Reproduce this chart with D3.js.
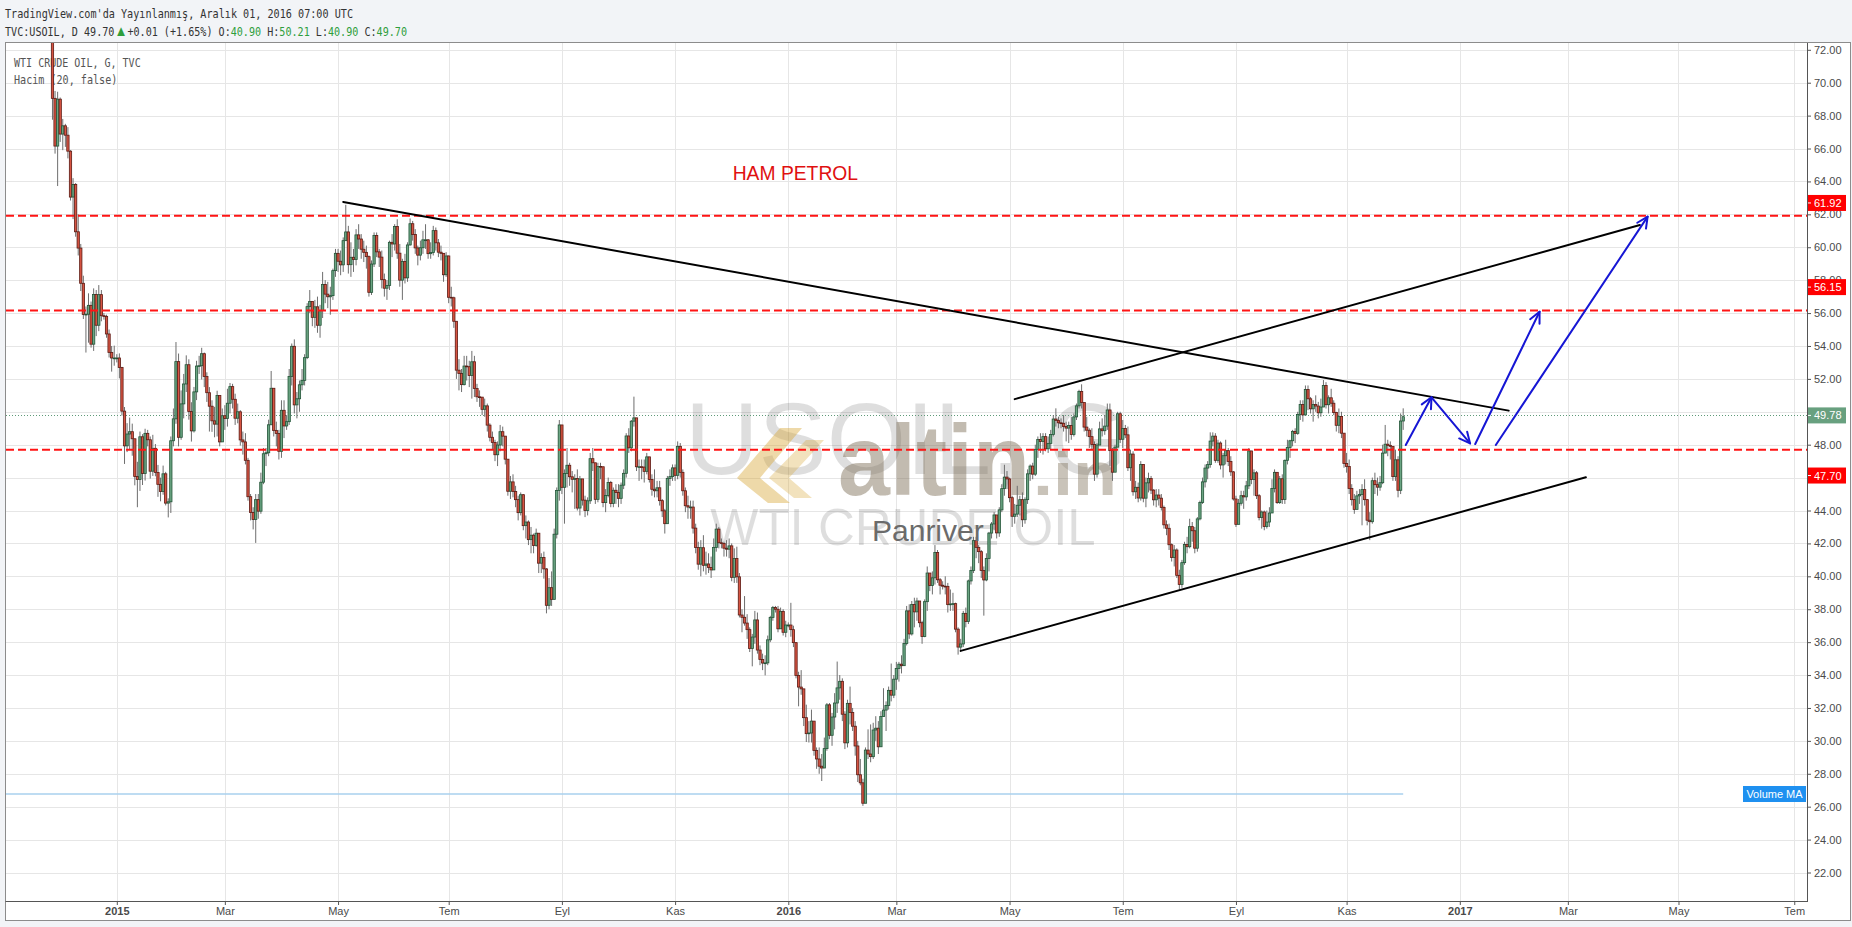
<!DOCTYPE html>
<html><head><meta charset="utf-8">
<script src="https://cdn.jsdelivr.net/npm/d3@7"></script>
<style>html,body{margin:0;padding:0;background:#f2f4f7;}svg{display:block}</style>
</head><body><svg id="chart" width="1852" height="927"></svg>
<script>
// ---------------- DATA ----------------
const months = ["2014-11","2014-12","2015-01","2015-02","2015-03","2015-04","2015-05","2015-06","2015-07","2015-08","2015-09","2015-10","2015-11","2015-12","2016-01","2016-02","2016-03","2016-04","2016-05","2016-06","2016-07","2016-08","2016-09","2016-10","2016-11","2016-12"];
const firstOpen = 76.50;
const closes = [
[75.78,74.09,73.69,69.05,66.15],
[69.00,66.88,67.38,66.81,65.84,63.05,63.82,60.94,59.95,57.81,55.91,55.93,56.47,54.11,57.13,55.26,57.12,55.84,55.80,54.73,53.61,53.27,53.27],
[53.27,52.69,50.04,47.93,48.65,48.79,48.36,46.07,45.89,48.48,46.25,48.69,48.30,46.39,47.78,46.31,45.59,45.15,46.23,44.45,44.53,48.24],
[49.57,53.05,48.45,50.48,51.69,52.86,50.02,48.84,51.21,52.78,52.80,53.53,52.14,51.16,50.34,49.45,49.25,50.99,48.17,49.76],
[49.59,50.52,51.53,50.76,49.61,50.00,48.29,48.17,47.05,44.84,43.88,43.46,44.66,43.96,45.72,47.45,47.51,49.21,51.43,48.87,48.68,47.60],
[50.09,49.14,49.40,52.14,53.98,50.42,50.79,51.64,51.91,53.29,56.39,56.71,55.74,56.38,55.26,56.16,57.74,57.15,56.99,57.06,58.58,59.63],
[59.15,58.93,60.40,60.93,58.94,59.39,59.25,60.75,60.50,59.88,59.69,59.43,57.26,58.98,60.72,59.72,59.40,58.03,57.51,57.68,60.30],
[60.20,61.26,59.64,58.00,59.13,58.14,60.14,61.43,60.77,59.96,59.52,59.97,60.45,60.45,59.61,59.68,61.01,60.27,59.70,59.63,58.33,59.47],
[56.96,56.93,55.50,52.53,52.33,51.65,52.78,52.74,52.20,53.04,51.41,50.91,50.89,50.15,50.36,49.19,48.45,48.14,47.39,47.98,48.79,48.52,47.12],
[45.17,45.74,45.15,44.66,43.87,44.96,43.08,43.30,42.23,42.50,41.87,42.62,40.80,41.14,40.45,38.24,39.31,38.60,42.56,45.22,49.20],
[45.41,46.25,46.75,46.05,45.90,45.94,44.15,45.92,44.63,44.00,44.59,47.15,46.90,44.68,46.68,46.66,44.48,44.91,45.70,44.43,45.23,45.09],
[44.74,45.54,46.26,48.53,47.81,49.43,49.63,46.66,46.66,46.64,46.38,47.26,45.89,45.29,45.20,45.38,44.60,43.98,43.20,45.94,46.06,46.59],
[46.14,47.90,46.32,45.20,44.29,44.21,44.21,42.93,41.75,40.74,41.74,40.67,40.75,40.54,40.39,41.75,42.87,42.04,42.00,41.71,41.65],
[41.85,39.94,41.08,39.97,37.65,37.51,37.16,36.76,35.62,36.31,37.35,35.52,34.95,34.73,34.74,36.14,37.50,38.10,38.00,36.81,37.87,36.60,37.04],
[37.04,36.76,35.97,33.97,33.27,33.16,31.41,30.44,30.48,31.20,29.42,28.90,28.46,28.35,29.53,32.19,30.34,31.45,32.30,33.22,33.62],
[31.62,29.88,32.28,31.72,30.89,29.69,27.94,27.45,26.21,29.44,29.20,29.04,30.66,30.77,29.64,31.48,31.87,32.15,33.07,32.78,33.75],
[34.40,34.66,34.57,35.92,37.90,36.50,38.29,37.84,38.50,37.18,36.34,38.46,40.20,39.44,39.91,41.45,39.79,39.46,39.40,39.39,38.28,38.32,38.34],
[36.79,35.70,35.89,37.75,37.26,39.72,40.36,42.17,41.76,41.50,40.36,39.78,41.08,42.63,43.18,43.73,42.64,44.04,45.33,46.03,45.92],
[44.78,43.65,43.78,44.32,44.66,43.44,44.66,46.23,46.70,46.21,47.72,48.31,48.19,48.49,47.75,48.08,48.62,49.56,49.48,49.33,49.30,49.10],
[49.01,49.17,48.62,49.69,50.36,51.23,50.56,49.07,48.88,48.49,48.01,46.21,47.98,48.96,48.85,49.13,50.11,47.64,46.33,47.85,49.88,48.33],
[48.99,48.60,46.60,47.43,45.14,45.41,44.76,46.80,44.75,45.68,45.95,45.24,44.65,44.94,44.75,44.19,43.13,42.92,41.92,41.14,41.60],
[40.06,39.51,40.83,41.93,41.80,43.02,42.77,41.71,43.49,44.49,45.74,46.58,46.79,48.22,48.52,47.05,48.10,46.77,47.33,47.64,46.98,46.35,44.70],
[43.16,44.44,44.90,44.83,45.50,47.62,45.88,46.29,44.90,43.58,43.91,43.03,43.30,43.85,45.34,46.32,44.48,45.93,44.67,47.05,47.83,48.24],
[48.81,48.69,49.83,50.44,49.81,51.35,50.79,50.18,50.44,50.35,49.94,50.29,51.60,50.43,50.85,50.52,49.96,49.18,49.72,48.70,46.86],
[46.67,45.34,44.66,44.07,44.89,44.98,45.27,44.66,43.41,43.32,45.81,45.57,45.42,45.69,47.49,48.03,47.96,47.90,46.06,47.08,45.23,49.44],
[49.70]
];
const highs = [
[76.90,76.20,74.80,73.80,69.50],
[69.45,69.10,67.80,67.50,67.30,65.90,64.20,63.90,62.00,60.20,58.27,56.40,57.20,56.70,57.50,57.40,57.70,57.40,56.00,55.90,55.00,54.00,54.02],
[53.50,53.55,52.73,50.29,49.31,49.65,49.28,48.05,46.96,48.80,48.64,48.97,48.90,48.50,48.60,48.04,46.77,46.00,46.73,46.35,44.74,48.50],
[50.20,54.24,53.54,51.30,52.30,53.43,53.19,50.58,51.51,53.10,53.40,53.89,53.60,52.40,51.50,50.70,50.30,51.28,50.80,50.20],
[50.40,51.40,51.75,51.70,51.10,50.50,50.10,48.80,48.70,47.20,45.00,44.20,45.00,45.00,46.30,47.80,47.80,49.52,52.48,51.40,49.40,48.90],
[50.70,50.70,49.80,52.60,54.15,54.40,51.20,51.90,52.60,53.50,56.60,57.40,56.70,56.80,57.00,56.50,58.50,58.00,57.90,57.60,58.70,59.90],
[59.90,59.80,60.60,62.58,61.30,60.30,59.90,61.10,61.40,60.80,60.40,60.10,59.50,59.20,60.90,60.90,59.90,59.80,58.40,58.00,60.40],
[60.80,61.40,61.70,60.20,59.30,59.60,60.30,61.75,61.60,61.10,60.10,60.40,61.00,61.40,60.50,60.30,61.30,61.20,60.50,60.10,59.30,59.70],
[59.50,57.60,57.00,55.40,53.20,52.60,53.40,53.40,53.10,53.70,53.40,51.70,51.30,50.90,50.80,50.50,49.30,48.80,48.30,48.20,49.20,49.10,48.50],
[46.90,46.10,46.20,45.50,44.90,45.10,45.00,43.70,43.40,43.00,42.60,42.90,42.60,41.40,41.50,40.50,39.90,40.30,42.90,45.40,49.50],
[49.00,46.50,47.80,46.90,46.40,46.20,46.50,46.10,45.70,44.90,44.80,47.50,47.80,46.80,46.90,46.90,46.30,45.30,46.00,45.80,45.40,45.60],
[45.60,45.70,46.50,48.70,49.00,49.50,50.92,49.60,47.10,47.10,47.10,47.50,47.20,46.20,46.50,45.80,45.80,44.70,44.10,46.10,46.50,46.80],
[46.80,48.20,48.10,46.50,45.40,44.90,44.60,44.60,43.20,42.10,42.20,42.50,41.50,41.40,41.20,42.30,43.20,43.00,42.30,42.10,42.20],
[42.30,42.00,41.70,41.80,40.20,38.00,38.80,37.70,36.90,36.50,37.90,37.80,35.80,35.30,35.20,36.40,37.60,38.20,38.20,38.20,38.10,38.00,37.30],
[37.20,38.39,37.00,36.00,34.20,34.30,32.60,32.20,31.20,31.90,31.10,29.60,29.60,29.20,30.20,32.30,32.30,31.70,32.90,34.82,34.00],
[33.80,31.80,32.50,33.30,32.00,31.20,30.00,28.90,27.70,29.60,30.70,31.00,31.10,31.50,31.20,31.80,33.20,32.40,33.30,34.70,34.00],
[34.80,34.80,35.20,36.20,38.20,38.30,38.50,38.70,38.70,38.20,37.30,38.60,40.60,40.20,40.30,41.90,41.60,39.90,39.70,40.00,39.60,39.20,39.00],
[38.40,36.90,36.20,37.90,38.10,39.80,40.60,42.40,42.40,41.90,41.60,40.60,41.40,42.70,43.30,43.90,43.60,44.20,45.60,46.78,46.40],
[46.00,44.90,44.40,45.50,44.90,45.10,44.80,46.50,46.80,46.90,48.00,48.50,48.70,48.70,48.70,48.50,48.90,49.80,50.21,49.70,49.60,49.80],
[49.40,49.40,49.70,49.90,50.50,51.34,51.67,50.40,49.70,49.00,49.00,48.20,48.10,49.40,49.60,49.80,50.50,50.50,47.80,48.00,50.00,50.00],
[49.50,49.20,49.10,47.70,47.60,45.80,45.70,47.00,46.80,46.00,46.30,46.10,45.30,45.30,45.30,45.00,44.30,43.40,43.20,42.00,41.90],
[41.70,40.40,41.00,42.10,42.40,43.50,43.30,43.00,43.60,44.60,46.00,46.80,47.00,48.75,48.75,48.70,48.30,48.20,47.50,48.30,47.80,47.30,46.40],
[44.90,44.70,45.20,45.20,45.80,47.80,47.60,46.50,46.40,45.00,44.00,44.00,44.00,44.20,45.90,46.50,46.30,46.10,46.20,47.10,48.30,48.30],
[48.90,49.00,50.00,50.70,50.70,51.60,51.60,50.90,50.70,51.00,50.60,50.80,51.93,51.80,51.00,51.40,50.70,50.00,50.20,50.00,48.70],
[47.50,47.10,45.60,45.00,45.20,45.30,45.60,45.90,44.70,43.90,46.00,46.30,46.00,46.10,48.00,49.20,48.30,48.20,47.40,47.70,47.30,49.90],
[50.21]
];
const lows = [
[74.50,73.50,73.10,67.75,65.69],
[63.72,66.40,65.90,66.10,65.40,62.84,61.71,60.64,59.50,57.34,55.64,53.60,54.20,53.90,53.70,54.60,54.90,55.50,55.60,54.50,53.30,52.44,52.80],
[53.00,52.03,49.77,46.83,47.55,47.73,47.33,45.53,44.20,45.19,45.55,45.82,47.90,45.94,46.10,46.08,44.83,44.56,44.96,44.31,43.58,43.85],
[47.90,49.27,47.90,48.30,49.60,51.20,49.52,48.19,48.74,50.71,52.30,51.96,51.50,50.60,48.80,48.78,48.45,48.50,47.90,48.20],
[48.90,49.10,49.90,50.20,49.20,49.30,47.95,47.40,46.80,44.60,43.40,42.85,42.03,43.50,43.80,45.60,46.70,47.30,49.30,48.50,47.90,47.10],
[47.20,48.40,48.90,49.20,51.60,49.90,49.60,50.00,51.30,51.60,53.20,56.00,55.20,55.10,54.80,54.50,55.70,56.60,56.30,55.90,56.80,58.20],
[58.50,58.30,58.50,60.40,58.40,58.20,58.50,58.90,59.90,59.30,59.10,58.70,57.00,57.10,58.80,59.40,58.80,57.50,57.00,56.80,57.40],
[59.40,59.80,59.30,57.60,56.80,57.80,57.90,60.10,60.40,59.60,58.90,59.20,59.60,59.90,59.30,59.30,59.50,59.80,59.40,59.20,57.90,58.20],
[56.60,56.40,55.10,52.00,51.30,51.20,51.60,51.90,51.50,50.80,50.90,50.60,50.30,49.80,49.70,48.80,48.20,47.70,47.00,46.70,47.60,47.90,46.80],
[44.90,44.70,44.80,44.20,43.40,43.70,42.80,42.30,41.90,41.40,41.40,41.80,40.20,40.20,39.86,37.75,38.00,38.20,38.90,42.30,44.60],
[45.00,43.20,45.40,45.50,45.10,44.10,44.00,43.70,44.30,43.60,43.70,44.40,46.40,44.40,44.50,45.90,44.20,43.90,44.80,44.20,44.20,44.40],
[44.20,44.40,45.30,46.00,47.50,47.60,49.10,46.40,45.80,45.90,45.70,46.20,45.70,44.90,44.80,44.80,44.30,43.60,42.60,43.30,45.50,45.80],
[45.80,45.90,46.00,44.90,43.90,43.50,43.50,42.60,41.40,40.40,40.00,40.30,40.10,40.20,39.90,40.50,41.50,41.70,41.70,41.20,41.20],
[41.10,39.70,39.60,39.60,37.50,36.60,37.00,36.20,35.40,34.53,35.90,35.30,34.60,34.30,33.98,34.60,36.00,37.30,37.80,36.60,36.80,36.40,36.30],
[36.90,36.33,35.70,33.80,32.10,32.80,30.90,29.93,29.90,29.90,29.10,28.30,28.00,27.56,28.40,29.40,30.10,29.70,30.70,31.70,32.50],
[31.20,29.50,29.60,31.00,30.60,29.10,27.50,27.30,26.05,26.50,28.90,28.70,28.90,30.00,29.20,29.70,31.50,30.60,31.90,32.40,32.60],
[33.10,33.60,34.10,34.60,35.80,36.20,36.40,36.90,37.30,36.90,35.90,36.30,37.90,39.10,38.90,39.50,39.60,38.90,39.20,38.90,37.80,37.90,37.90],
[36.60,35.24,35.40,35.70,36.90,37.10,39.50,40.20,41.10,40.80,39.90,37.61,39.70,40.30,42.30,42.80,42.30,42.40,43.90,44.90,45.30],
[44.50,43.00,43.20,43.60,43.70,43.00,43.20,44.40,45.80,45.90,46.10,47.20,47.50,47.40,47.60,47.50,47.70,48.50,49.10,49.00,49.00,48.80],
[48.20,48.10,48.30,48.50,49.50,50.20,50.20,48.80,48.50,47.80,47.70,45.80,46.00,48.20,48.50,48.60,48.90,46.70,45.80,46.40,48.00,48.10],
[47.80,48.40,46.40,45.80,44.90,44.70,44.50,44.60,44.50,44.20,45.10,45.00,44.30,44.20,44.30,44.00,42.90,42.50,41.60,40.90,40.60],
[39.90,39.19,39.30,40.70,41.40,41.70,42.10,41.40,41.50,43.40,44.40,45.40,45.90,46.60,47.90,46.90,46.90,46.50,46.00,46.80,46.70,46.10,44.60],
[43.00,43.20,44.30,44.10,44.60,45.30,45.60,44.90,44.70,43.40,42.90,42.80,42.90,43.00,43.90,45.10,44.40,44.40,44.40,44.40,46.80,47.20],
[47.90,48.10,48.60,49.50,49.40,49.90,50.10,49.90,49.40,50.00,49.60,49.70,50.40,50.20,49.90,50.30,49.80,48.80,48.70,48.40,46.60],
[46.30,45.00,44.30,43.80,44.10,44.40,43.10,44.30,43.10,42.20,43.20,45.00,44.90,45.20,45.60,47.50,47.30,47.10,45.80,45.80,44.80,45.00],
[48.90]
];
const priceTicks = [22,24,26,28,30,32,34,36,38,40,42,44,46,48,50,52,54,56,58,60,62,64,66,68,70,72];
const tickMonths = ["2015-01","2015-03","2015-05","2015-07","2015-09","2015-11","2016-01","2016-03","2016-05","2016-07","2016-09","2016-11","2017-01","2017-03","2017-05","2017-07"];
const tickLabels = ["2015","Mar","May","Tem","Eyl","Kas","2016","Mar","May","Tem","Eyl","Kas","2017","Mar","May","Tem"];
const levelLines = [61.92, 56.15, 47.70];
const levelLabels = ["61.92","56.15","47.70"];
const lastPrice = 49.78;
const volumeMaLevel = 26.77;
const trendLines = [
  [["2015-05-05",62.75],["2017-01-27",50.07]],
  [["2016-04-05",35.47],["2017-03-10",46.02]],
  [["2016-05-04",50.77],["2017-04-10",61.35]]
];
const arrows = [
  [["2016-12-02",47.98],["2016-12-16",50.88]],
  [["2016-12-16",50.88],["2017-01-06",48.08]],
  [["2017-01-10",48.04],["2017-02-14",56.08]],
  [["2017-01-20",47.98],["2017-04-13",61.86]]
];

// ---------------- BUILD ----------------
const svg = d3.select("#chart");
const SANS = "'Liberation Sans', Arial, sans-serif";
const MONO = "'DejaVu Sans Mono', 'Liberation Mono', monospace";
const P = {l:6, r:1807, t:43, b:901};

// weekday calendar
const cal = [];
for (let t = Date.UTC(2014,10,24); t <= Date.UTC(2017,7,31); t += 86400000) {
  const d = new Date(t); const w = d.getUTCDay();
  if (w !== 0 && w !== 6) cal.push(d);
}
const mkey = d => d.toISOString().slice(0,7);
const idxOf = s => { const t = Date.parse(s + "T00:00:00Z"); return cal.findIndex(d => d.getTime() >= t); };

const bars = [];
months.forEach((mk, m) => {
  const days = cal.map((d,i)=>({d,i})).filter(o => mkey(o.d) === mk).slice(0, closes[m].length);
  if (days.length !== closes[m].length || highs[m].length !== closes[m].length || lows[m].length !== closes[m].length)
    console.warn("length mismatch", mk, days.length, closes[m].length, highs[m].length, lows[m].length);
  days.forEach((o, k) => bars.push({i:o.i, c:closes[m][k], h:highs[m][k], l:lows[m][k]}));
});
bars.forEach((b, k) => {
  b.o = k === 0 ? firstOpen : bars[k-1].c;
  b.h = Math.max(b.h, b.o, b.c); b.l = Math.min(b.l, b.o, b.c);
});

const x = d3.scaleLinear().domain([idxOf("2015-01-01"), idxOf("2017-01-02")]).range([116.8, 1459.8]);
const y = d3.scaleLinear().domain([22, 72]).range([872.5, 49.8]);
const tickIdx = tickMonths.map(s => idxOf(s + "-01"));

// backgrounds
svg.append("rect").attr("x",0).attr("y",0).attr("width",1852).attr("height",927).attr("fill","#f2f4f7");
svg.append("rect").attr("x",5.5).attr("y",42.5).attr("width",1845).attr("height",878).attr("fill","#ffffff").attr("stroke","#8c8c8c");

const defs = svg.append("defs");
defs.append("clipPath").attr("id","clip").append("rect").attr("x",P.l).attr("y",P.t).attr("width",P.r-P.l).attr("height",P.b-P.t);

// grid
const grid = svg.append("g").attr("clip-path","url(#clip)");
grid.selectAll("line.h").data(priceTicks).join("line")
  .attr("x1",P.l).attr("x2",P.r).attr("y1",d=>Math.round(y(d))+0.5).attr("y2",d=>Math.round(y(d))+0.5)
  .attr("stroke","#e6e6e6").attr("stroke-width",1);
grid.selectAll("line.v").data(tickIdx).join("line")
  .attr("y1",P.t).attr("y2",P.b).attr("x1",d=>Math.round(x(d))+0.5).attr("x2",d=>Math.round(x(d))+0.5)
  .attr("stroke","#e6e6e6").attr("stroke-width",1);

// watermark
const wm = svg.append("g").attr("clip-path","url(#clip)");
wm.append("text").attr("x",906).attr("y",474).attr("text-anchor","middle")
  .attr("font-family",SANS).attr("font-size",102).attr("fill","rgba(0,0,0,0.13)").text("USOIL, G");
wm.append("text").attr("x",903).attr("y",545).attr("text-anchor","middle")
  .attr("font-family",SANS).attr("font-size",51).attr("fill","rgba(0,0,0,0.13)").text("WTI CRUDE OIL");
wm.append("path").attr("d","M780 428 L802 428 L760 478 L790 503 L768 503 L737 478 Z").attr("fill","rgba(215,165,50,0.42)");
wm.append("path").attr("d","M806 440 L824 440 L789 478 L812 498 L794 498 L769 478 Z").attr("fill","rgba(215,165,50,0.32)");
wm.append("text").attr("x",838).attr("y",495).attr("font-family",SANS).attr("font-weight","bold")
  .attr("font-size",100).attr("textLength",192).attr("lengthAdjust","spacingAndGlyphs")
  .attr("fill","rgba(120,105,80,0.45)").text("altin");
wm.append("text").attr("x",1033).attr("y",495).attr("font-family",SANS).attr("font-weight","bold")
  .attr("font-size",62).attr("textLength",84).attr("lengthAdjust","spacingAndGlyphs")
  .attr("fill","rgba(120,105,80,0.40)").text(".in");

// legend
const lg = svg.append("g").attr("font-family",MONO).attr("font-size",11.5).attr("fill","#555");
lg.append("text").attr("x",14).attr("y",66.5).attr("textLength",126.7).attr("lengthAdjust","spacingAndGlyphs").text("WTI CRUDE OIL, G, TVC");
lg.append("text").attr("x",14).attr("y",84).attr("textLength",103.3).attr("lengthAdjust","spacingAndGlyphs").text("Hacim (20, false)");

// overlays under candles
const ov = svg.append("g").attr("clip-path","url(#clip)");
ov.append("line").attr("x1",P.l).attr("x2",x(bars[bars.length-1].i)).attr("y1",y(volumeMaLevel)).attr("y2",y(volumeMaLevel))
  .attr("stroke","#a9d0ee").attr("stroke-width",1.5);
ov.append("line").attr("x1",P.l).attr("x2",P.r).attr("y1",Math.round(y(lastPrice))+0.5).attr("y2",Math.round(y(lastPrice))+0.5)
  .attr("stroke","#5f9a79").attr("stroke-width",1).attr("stroke-dasharray","1,2");

// candles
const cg = svg.append("g").attr("clip-path","url(#clip)");
cg.selectAll("line.wick").data(bars).join("line").attr("class","wick")
  .attr("x1",d=>x(d.i)).attr("x2",d=>x(d.i)).attr("y1",d=>y(d.h)).attr("y2",d=>y(d.l))
  .attr("stroke","#6e6e6e").attr("stroke-width",1);
cg.selectAll("rect.body").data(bars).join("rect").attr("class","body")
  .attr("x",d=>x(d.i)-1.15).attr("width",2.3)
  .attr("y",d=>y(Math.max(d.o,d.c))).attr("height",d=>Math.max(0.8,Math.abs(y(d.o)-y(d.c))))
  .attr("fill",d=>d.c>=d.o?"#6ba583":"#d75442")
  .attr("stroke",d=>d.c>=d.o?"#225437":"#5b1a13").attr("stroke-width",0.8);

// drawings
const dr = svg.append("g").attr("clip-path","url(#clip)");
dr.selectAll("line.lvl").data(levelLines).join("line")
  .attr("x1",P.l).attr("x2",P.r).attr("y1",d=>y(d)).attr("y2",d=>y(d))
  .attr("stroke","#ff1414").attr("stroke-width",2).attr("stroke-dasharray","8,4");
dr.selectAll("line.tl").data(trendLines).join("line")
  .attr("x1",d=>x(idxOf(d[0][0]))).attr("y1",d=>y(d[0][1]))
  .attr("x2",d=>x(idxOf(d[1][0]))).attr("y2",d=>y(d[1][1]))
  .attr("stroke","#000").attr("stroke-width",2).attr("stroke-linecap","round");
const ag = dr.append("g").attr("stroke","#1616d4").attr("stroke-width",2).attr("fill","none").attr("stroke-linecap","round").attr("stroke-linejoin","round");
arrows.forEach(a => {
  const x1 = x(idxOf(a[0][0])), y1 = y(a[0][1]), x2 = x(idxOf(a[1][0])), y2 = y(a[1][1]);
  const ang = Math.atan2(y2-y1, x2-x1), L = 12, sp = 0.45;
  ag.append("line").attr("x1",x1).attr("y1",y1).attr("x2",x2).attr("y2",y2);
  ag.append("path").attr("d",`M${x2-L*Math.cos(ang-sp)},${y2-L*Math.sin(ang-sp)} L${x2},${y2} L${x2-L*Math.cos(ang+sp)},${y2-L*Math.sin(ang+sp)}`);
});

// texts in plot
svg.append("text").attr("x",732.7).attr("y",179.5).attr("font-family",SANS).attr("font-size",19.3)
  .attr("fill","#e01010").text("HAM PETROL");
svg.append("text").attr("x",872).attr("y",541).attr("font-family",SANS).attr("font-size",30)
  .attr("fill","#6b6b6b").text("Panriver");

// Volume MA label
svg.append("rect").attr("x",1743).attr("y",786).attr("width",63).attr("height",16).attr("fill","#1e90f0");
svg.append("text").attr("x",1774.5).attr("y",798).attr("text-anchor","middle").attr("font-family",SANS).attr("font-size",11)
  .attr("fill","#fff").text("Volume MA");

// axes
const ya = svg.append("g").attr("transform",`translate(${P.r},0)`)
  .call(d3.axisRight(y).tickValues(priceTicks).tickFormat(d3.format(".2f")).tickSize(4).tickPadding(3));
ya.select(".domain").remove();
ya.selectAll("line").attr("stroke","#555");
ya.selectAll("text").attr("font-family",SANS).attr("font-size",11).attr("fill","#4a4a4a");

const xa = svg.append("g").attr("transform",`translate(0,${P.b})`)
  .call(d3.axisBottom(x).tickValues(tickIdx).tickFormat((d,i)=>tickLabels[i]).tickSize(4).tickPadding(2));
xa.select(".domain").remove();
xa.selectAll("line").attr("stroke","#555");
xa.selectAll("text").attr("font-family",SANS).attr("font-size",11).attr("fill","#4a4a4a")
  .attr("font-weight",(d,i)=>/^\d{4}$/.test(tickLabels[i])?"bold":"normal");

// level labels on price axis
const labelOffsets = [-12.7, -23.5, 25.9];
const lab = svg.append("g").attr("font-family",SANS).attr("font-size",11);
levelLines.forEach((v,k) => {
  const cy = y(v) + labelOffsets[k];
  lab.append("rect").attr("x",1808).attr("y",cy-8).attr("width",38).attr("height",16).attr("fill","#ff0000");
  lab.append("line").attr("x1",1808).attr("x2",1811).attr("y1",cy).attr("y2",cy).attr("stroke","#fff");
  lab.append("text").attr("x",1814).attr("y",cy+4).attr("fill","#fff").text(levelLabels[k]);
});
{
  const cy = y(lastPrice);
  lab.append("rect").attr("x",1808).attr("y",cy-8).attr("width",38).attr("height",16).attr("fill","#68a07f");
  lab.append("line").attr("x1",1808).attr("x2",1811).attr("y1",cy).attr("y2",cy).attr("stroke","#fff");
  lab.append("text").attr("x",1814).attr("y",cy+4).attr("fill","#fff").text(d3.format(".2f")(lastPrice));
}

// frame lines
svg.append("line").attr("x1",P.l-0.5).attr("x2",P.r+0.5).attr("y1",P.b+0.5).attr("y2",P.b+0.5).attr("stroke","#555");
svg.append("line").attr("x1",P.r+0.5).attr("x2",P.r+0.5).attr("y1",P.t).attr("y2",P.b+1).attr("stroke","#555");

// header
const hd = svg.append("g").attr("font-family",MONO).attr("font-size",11.5);
hd.append("text").attr("x",5).attr("y",17.5).attr("fill","#333").attr("textLength",348).attr("lengthAdjust","spacingAndGlyphs")
  .text("TradingView.com'da Yayınlanmış, Aralık 01, 2016 07:00 UTC");
const GREEN = "#2f9e3c";
const parts = [["TVC:USOIL, D 49.70","#333"],["▲",GREEN],["+0.01 (+1.65%) O:","#333"],["40.90",GREEN],[" H:","#333"],["50.21",GREEN],[" L:","#333"],["40.90",GREEN],[" C:","#333"],["49.70",GREEN]];
const t2 = hd.append("text").attr("x",5).attr("y",35.5).attr("textLength",402).attr("lengthAdjust","spacingAndGlyphs");
parts.forEach(p => {
  const ts = t2.append("tspan").attr("fill",p[1]).text(p[0]);
  if (p[0] === "▲") ts.attr("font-family",SANS).attr("font-size",15);
});
</script></body></html>
